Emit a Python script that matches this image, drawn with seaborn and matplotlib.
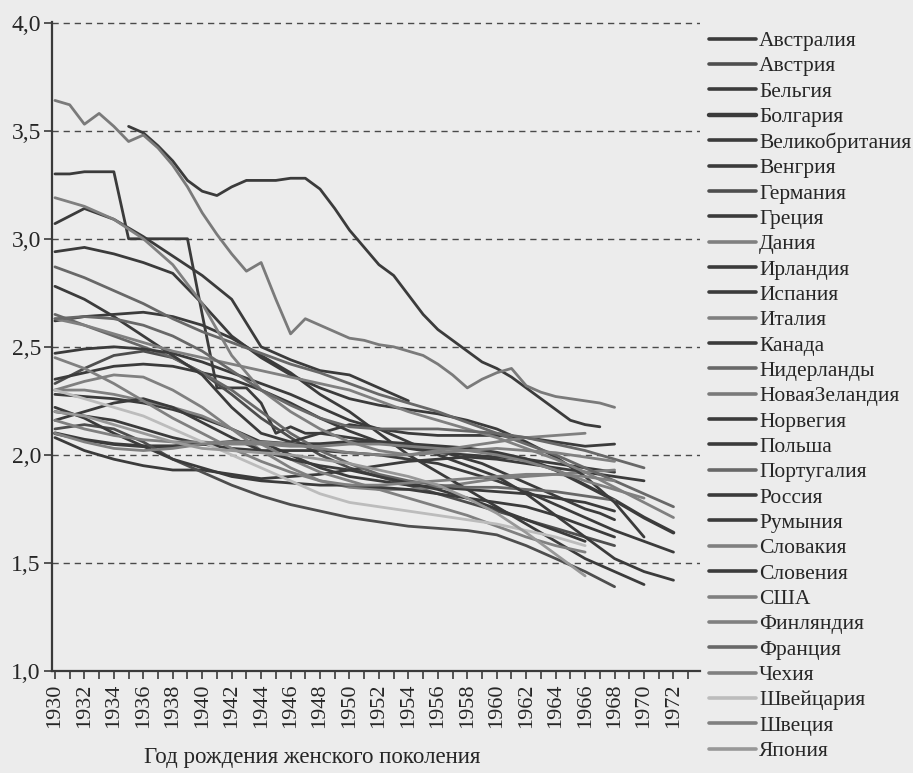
import numpy as np
import pandas as pd
import matplotlib
matplotlib.use("Agg")
import matplotlib.pyplot as plt
import seaborn as sns
from matplotlib.lines import Line2D

sns.set_theme(style="white")
plt.rcParams['font.family'] = ['Liberation Serif', 'DejaVu Serif']

# ---------------- data (completed cohort fertility) ----------------
COUNTRIES = ["Австралия", "Австрия", "Бельгия", "Болгария", "Великобритания",
             "Венгрия", "Германия", "Греция", "Дания", "Ирландия", "Испания",
             "Италия", "Канада", "Нидерланды", "НоваяЗеландия", "Норвегия",
             "Польша", "Португалия", "Россия", "Румыния", "Словакия", "Словения",
             "США", "Финляндия", "Франция", "Чехия", "Швейцария", "Швеция", "Япония"]

# first cohort year and cohort step of each series
START = [1930, 1930, 1930, 1930, 1930, 1930, 1930, 1930, 1930, 1935, 1930,
         1930, 1930, 1930, 1930, 1930, 1930, 1930, 1930, 1930, 1930, 1930,
         1930, 1930, 1930, 1930, 1930, 1930, 1930]
STEP = [1, 2, 2, 2, 2, 2, 2, 2, 2, 1, 2,
        2, 2, 2, 1, 2, 2, 2, 2, 2, 2, 2,
        2, 2, 2, 2, 2, 2, 2]

australia = [3.30, 3.30, 3.31, 3.31, 3.31, 3.00, 3.00, 3.00, 3.00, 3.00,
             2.65, 2.31, 2.31, 2.31, 2.24, 2.10, 2.13, 2.10, 2.10, 2.09,
             2.08, 2.07, 2.06, 2.05, 2.04, 2.03, 2.02, 2.00, 1.98, 1.96,
             1.93, 1.90, 1.87, 1.84, 1.81, 1.78, 1.75, 1.73, 1.70]
austria = [2.33, 2.40, 2.46, 2.48, 2.45, 2.38, 2.28, 2.17, 2.08, 2.00,
           1.94, 1.90, 1.86, 1.82, 1.78, 1.74, 1.70, 1.66, 1.62, 1.58]
belgium = [2.28, 2.27, 2.26, 2.24, 2.21, 2.17, 2.12, 2.06, 2.00, 1.94,
           1.90, 1.88, 1.86, 1.85, 1.84, 1.83, 1.82, 1.80, 1.78, 1.74]
bulgaria = [2.10, 2.07, 2.05, 2.04, 2.04, 2.05, 2.06, 2.06, 2.05, 2.05, 2.06,
            2.06, 2.05, 2.04, 2.03, 2.01, 1.98, 1.93, 1.86, 1.79, 1.71, 1.64]
uk = [2.35, 2.38, 2.41, 2.42, 2.41, 2.38, 2.35, 2.30, 2.24, 2.17,
      2.11, 2.06, 2.03, 2.01, 2.00, 1.99, 1.98, 1.96, 1.94, 1.92]
hungary = [2.08, 2.02, 1.98, 1.95, 1.93, 1.93, 1.91, 1.89, 1.90, 1.91, 1.93,
           1.95, 1.97, 1.98, 1.99, 1.98, 1.96, 1.94, 1.92, 1.90, 1.88]
germany = [2.12, 2.14, 2.12, 2.06, 1.98, 1.92, 1.86, 1.81, 1.77, 1.74,
           1.71, 1.69, 1.67, 1.66, 1.65, 1.63, 1.58, 1.52, 1.46, 1.39]
greece = [2.20, 2.18, 2.16, 2.12, 2.08, 2.05, 2.03, 2.02, 2.02, 2.02, 2.01,
          2.00, 1.98, 1.96, 1.92, 1.88, 1.83, 1.77, 1.71, 1.65, 1.60, 1.55]
denmark = [2.30, 2.34, 2.37, 2.36, 2.30, 2.22, 2.12, 2.02, 1.94, 1.88,
           1.85, 1.84, 1.84, 1.85, 1.87, 1.89, 1.90, 1.91, 1.92, 1.93]
ireland = [3.52, 3.49, 3.43, 3.36, 3.27, 3.22, 3.20, 3.24, 3.27, 3.27,
           3.27, 3.28, 3.28, 3.23, 3.14, 3.04, 2.96, 2.88, 2.83, 2.74,
           2.65, 2.58, 2.53, 2.48, 2.43, 2.40, 2.36, 2.31, 2.26, 2.21,
           2.16, 2.14, 2.13]
spain = [2.62, 2.64, 2.65, 2.66, 2.64, 2.60, 2.54, 2.46, 2.38, 2.28, 2.20,
         2.10, 2.00, 1.92, 1.84, 1.76, 1.68, 1.60, 1.52, 1.46, 1.40]
italy = [2.30, 2.30, 2.28, 2.25, 2.22, 2.18, 2.12, 2.05, 1.98, 1.92,
         1.88, 1.84, 1.80, 1.76, 1.72, 1.67, 1.62, 1.58, 1.55]
canada = [3.07, 3.14, 3.09, 3.01, 2.92, 2.83, 2.72, 2.50, 2.44, 2.39,
          2.37, 2.31, 2.25]
netherlands = [2.65, 2.60, 2.55, 2.50, 2.45, 2.38, 2.30, 2.20, 2.10, 2.02,
               1.96, 1.91, 1.88, 1.86, 1.85, 1.85, 1.84, 1.83, 1.81, 1.79]
new_zealand = [3.64, 3.62, 3.53, 3.58, 3.52, 3.45, 3.48, 3.42, 3.34, 3.24,
               3.12, 3.02, 2.93, 2.85, 2.89, 2.72, 2.56, 2.63, 2.60, 2.57,
               2.54, 2.53, 2.51, 2.50, 2.48, 2.46, 2.42, 2.37, 2.31, 2.35,
               2.38, 2.40, 2.32, 2.29, 2.27, 2.26, 2.25, 2.24, 2.22]
norway = [2.47, 2.49, 2.50, 2.49, 2.47, 2.43, 2.38, 2.33, 2.28, 2.22,
          2.16, 2.12, 2.10, 2.09, 2.09, 2.09, 2.08, 2.06, 2.04, 2.05]
poland = [2.94, 2.96, 2.93, 2.89, 2.84, 2.70, 2.55, 2.45, 2.37, 2.31, 2.26,
          2.23, 2.21, 2.19, 2.16, 2.12, 2.06, 1.99, 1.90, 1.78, 1.62]
portugal = [2.87, 2.82, 2.76, 2.70, 2.63, 2.57, 2.52, 2.47, 2.42, 2.38, 2.33,
            2.28, 2.24, 2.20, 2.15, 2.10, 2.05, 2.00, 1.94, 1.88, 1.82, 1.76]
russia = [2.22, 2.17, 2.10, 2.04, 1.98, 1.94, 1.90, 1.88, 1.87, 1.86,
          1.86, 1.85, 1.84, 1.82, 1.80, 1.78, 1.76, 1.72, 1.67, 1.62]
romania = [2.78, 2.72, 2.64, 2.55, 2.46, 2.37, 2.22, 2.10, 2.06, 2.10, 2.14,
           2.12, 2.06, 2.00, 1.95, 1.90, 1.82, 1.72, 1.62, 1.52, 1.46, 1.42]
slovakia = [2.63, 2.60, 2.56, 2.52, 2.48, 2.45, 2.42, 2.39, 2.36, 2.33, 2.30,
            2.25, 2.20, 2.16, 2.12, 2.08, 2.03, 1.98, 1.92, 1.85, 1.78, 1.71]
slovenia = [2.16, 2.20, 2.24, 2.26, 2.22, 2.15, 2.08, 2.02, 1.98, 1.95,
            1.93, 1.90, 1.87, 1.84, 1.80, 1.75, 1.70, 1.65, 1.60]
usa = [3.19, 3.15, 3.09, 3.00, 2.88, 2.70, 2.46, 2.30, 2.20, 2.12,
       2.06, 2.02, 2.00, 2.02, 2.04, 2.06, 2.08, 2.09, 2.10]
finland = [2.45, 2.40, 2.33, 2.25, 2.17, 2.10, 2.03, 1.97, 1.92, 1.88,
           1.86, 1.86, 1.87, 1.88, 1.89, 1.90, 1.91, 1.91, 1.90, 1.88]
france = [2.63, 2.64, 2.63, 2.60, 2.55, 2.48, 2.39, 2.30, 2.23, 2.17, 2.13,
          2.12, 2.12, 2.12, 2.11, 2.10, 2.08, 2.05, 2.02, 1.98, 1.94]
czechia = [2.16, 2.12, 2.09, 2.07, 2.06, 2.06, 2.05, 2.05, 2.04, 2.04, 2.05,
           2.05, 2.04, 2.03, 2.02, 2.00, 1.97, 1.93, 1.88, 1.84, 1.80]
switzerland = [2.30, 2.26, 2.22, 2.18, 2.12, 2.06, 2.00, 1.94, 1.88, 1.82,
               1.78, 1.76, 1.74, 1.72, 1.70, 1.68, 1.65, 1.62, 1.58]
sweden = [2.10, 2.06, 2.03, 2.02, 2.03, 2.05, 2.06, 2.06, 2.05, 2.03,
          2.01, 2.00, 2.00, 2.01, 2.02, 2.03, 2.02, 2.01, 1.99, 1.97]
japan = [2.20, 2.18, 2.14, 2.10, 2.06, 2.03, 2.02, 2.01, 2.00, 1.98,
         1.96, 1.93, 1.90, 1.86, 1.80, 1.73, 1.64, 1.54, 1.44]

VALUES = [australia, austria, belgium, bulgaria, uk, hungary, germany, greece,
          denmark, ireland, spain, italy, canada, netherlands, new_zealand,
          norway, poland, portugal, russia, romania, slovakia, slovenia, usa,
          finland, france, czechia, switzerland, sweden, japan]

YTICKS = [1.0, 1.5, 2.0, 2.5, 3.0, 3.5, 4.0]
YTICKLABELS = ["1,0", "1,5", "2,0", "2,5", "3,0", "3,5", "4,0"]
XLABEL = "Год рождения женского поколения"

# ---------------- styling ----------------
D, DM, M, ML, L, VL = '#3b3b3b', '#4e4e4e', '#686868', '#808080', '#989898', '#bcbcbc'
SHADES = [D, DM, D, D, D, D, DM, D, ML, D, D, ML, D, M, '#7a7a7a', D, D, M,
          D, D, ML, D, ML, ML, M, ML, VL, ML, L]
WIDTHS = [2.0] * len(COUNTRIES)
WIDTHS[COUNTRIES.index("Болгария")] = 2.6

rows = []
for name, start, step, vals in zip(COUNTRIES, START, STEP, VALUES):
    for i, v in enumerate(vals):
        rows.append((name, start + i * step, v))
df = pd.DataFrame(rows, columns=["country", "year", "tfr"])

BG = '#ececec'
TXT = '#262626'
fig = plt.figure(figsize=(9.13, 7.73), dpi=100, facecolor=BG)
ax = fig.add_axes([52 / 913, 1 - 671 / 773, (700 - 52) / 913, (671 - 22) / 773])
ax.set_facecolor(BG)

handles = []
for name, col, lw in zip(COUNTRIES, SHADES, WIDTHS):
    sub = df[df.country == name]
    sns.lineplot(data=sub, x="year", y="tfr", color=col, linewidth=lw,
                 estimator=None, legend=False, ax=ax)
    handles.append(Line2D([], [], color=col, lw=lw + 0.6))

ax.set_xlim(1929.8, 1973.8)
ax.set_ylim(1.0, 4.003)
ax.set_yticks(YTICKS)
ax.set_yticklabels(YTICKLABELS)
years = list(range(1930, 1974))
ax.set_xticks(years)
ax.set_xticklabels([str(y) if y % 2 == 0 else "" for y in years], rotation=90)

ax.yaxis.grid(True, linestyle=(0, (4.5, 3.5)), color='#4a4a4a', linewidth=1.0)
ax.xaxis.grid(False)
ax.set_axisbelow(True)
for s in ['top', 'right']:
    ax.spines[s].set_visible(False)
for s in ['left', 'bottom']:
    ax.spines[s].set_color('#3a3a3a')
    ax.spines[s].set_linewidth(1.6)

ax.tick_params(axis='x', direction='out', length=6, width=1.2, color='#3a3a3a',
               labelsize=16, labelcolor=TXT, pad=3, bottom=True)
ax.tick_params(axis='y', direction='out', length=6, width=1.2, color='#3a3a3a',
               labelsize=17, labelcolor=TXT, pad=2, left=True)
ax.set_xlabel("")
ax.set_ylabel("")

fig.text(312 / 913, 1 - 758 / 773, XLABEL, ha='center', va='center',
         fontsize=16.5, color=TXT)

leg = fig.legend(handles, COUNTRIES, loc='upper left',
                 bbox_to_anchor=(709 / 913, 1 - 31 / 773), frameon=False,
                 fontsize=15.5, handlelength=2.2, handletextpad=0.12,
                 labelspacing=0.245, borderaxespad=0, borderpad=0)
for t in leg.get_texts():
    t.set_color(TXT)

fig.savefig("out.png", dpi=100, facecolor=BG)
